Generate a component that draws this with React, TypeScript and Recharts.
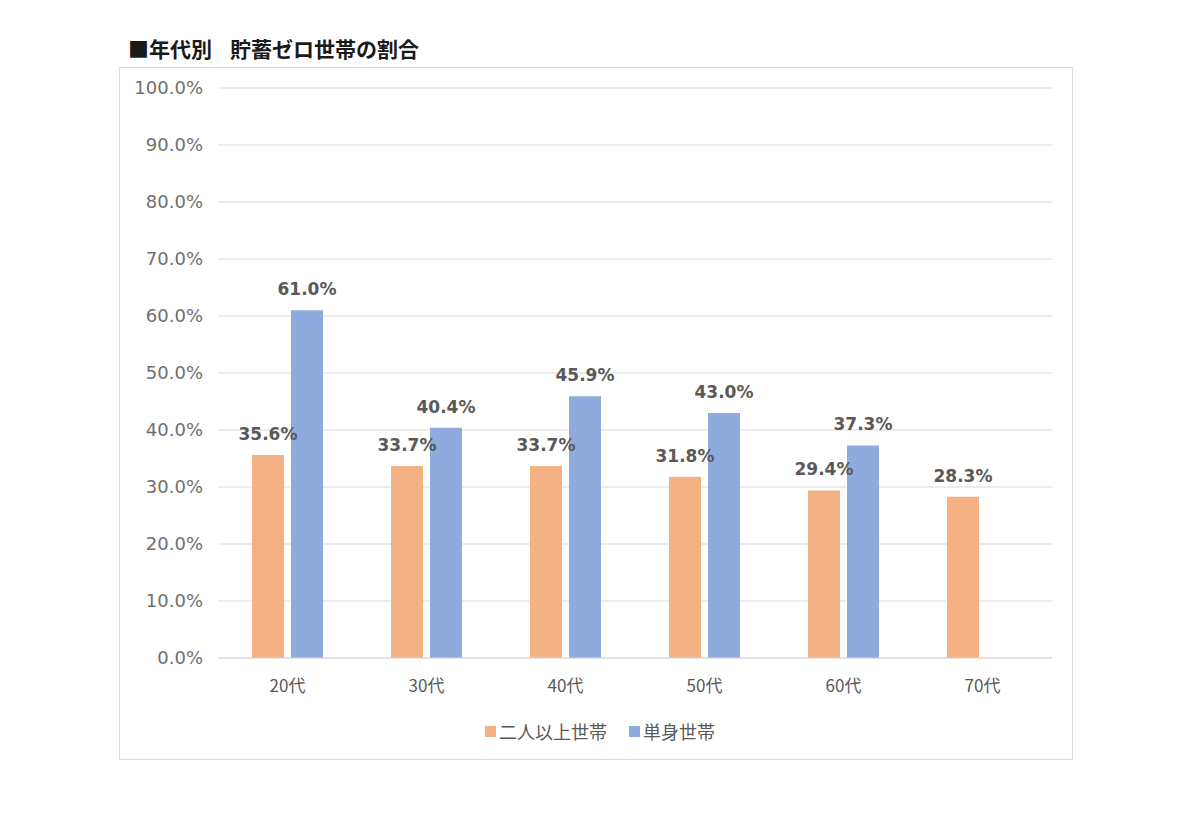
import { Bar, BarChart, CartesianGrid, LabelList, Legend, XAxis, YAxis } from "recharts";

const ageGroups = ["20代", "30代", "40代", "50代", "60代", "70代"];
const multiPersonRates = [0.356, 0.337, 0.337, 0.318, 0.294, 0.283];
const singleRates: (number | null)[] = [0.61, 0.404, 0.459, 0.43, 0.373, null];
const yTicks = [0, 0.1, 0.2, 0.3, 0.4, 0.5, 0.6, 0.7, 0.8, 0.9, 1.0];

const data = ageGroups.map((age, i) => ({
  age,
  multi: multiPersonRates[i],
  single: singleRates[i],
}));

const NUM_FONT = '"DejaVu Sans", "Noto Sans CJK JP", sans-serif';
const JP_FONT = '"Noto Sans CJK JP", sans-serif';
const pct = (v: unknown) => (v == null ? "" : `${(Number(v) * 100).toFixed(1)}%`);

const legendItems = [
  { label: "二人以上世帯", color: "#f4b183" },
  { label: "単身世帯", color: "#8faadc" },
];

function ChartLegend() {
  return (
    <div
      style={{
        display: "flex",
        justifyContent: "center",
        alignItems: "center",
        height: 24,
        gap: 22,
        marginLeft: 28,
        fontFamily: JP_FONT,
        fontSize: 18,
        color: "#595959",
      }}
    >
      {legendItems.map((item) => (
        <div key={item.label} style={{ display: "flex", alignItems: "center", gap: 3 }}>
          <span style={{ width: 11, height: 11, background: item.color, display: "inline-block" }} />
          <span>{item.label}</span>
        </div>
      ))}
    </div>
  );
}

export default function App() {
  return (
    <div
      style={{
        position: "absolute",
        left: 0,
        top: 0,
        width: 1200,
        height: 819,
        background: "#fff",
      }}
    >
      <div
        style={{
          position: "absolute",
          left: 128,
          top: 33,
          fontSize: 21,
          fontWeight: 700,
          color: "#1a1a1a",
          fontFamily: JP_FONT,
          whiteSpace: "pre",
        }}
      >
        ■年代別<span style={{ marginLeft: 18 }}>貯蓄ゼロ世帯の割合</span>
      </div>
      <div
        style={{
          position: "absolute",
          left: 119,
          top: 67,
          width: 952,
          height: 691,
          border: "1px solid #d9d9d9",
        }}
      >
        <BarChart
          width={952}
          height={691}
          data={data}
          margin={{ top: 20, right: 20, bottom: 47, left: 0 }}
          barGap={7}
          barSize={32}
        >
          <CartesianGrid stroke="#d9d9d9" vertical={false} />
          <XAxis
            dataKey="age"
            axisLine={{ stroke: "#d9d9d9" }}
            tickLine={false}
            tickSize={0}
            tickMargin={22}
            tick={{ fill: "#595959", fontSize: 17, fontFamily: JP_FONT }}
          />
          <YAxis
            width={98}
            domain={[0, 1]}
            ticks={yTicks}
            axisLine={false}
            tickLine={false}
            tickSize={0}
            tickMargin={15}
            tickFormatter={pct}
            tick={{ fill: "#6f6f6f", fontSize: 18, fontFamily: NUM_FONT }}
          />
          <Legend verticalAlign="bottom" wrapperStyle={{ bottom: 16 }} content={() => <ChartLegend />} />
          <Bar dataKey="multi" name="二人以上世帯" fill="#f4b183" isAnimationActive={false}>
            <LabelList
              dataKey="multi"
              position="top"
              offset={15}
              formatter={pct}
              style={{ fill: "#595959", fontSize: 17, fontWeight: 700, fontFamily: NUM_FONT }}
            />
          </Bar>
          <Bar dataKey="single" name="単身世帯" fill="#8faadc" isAnimationActive={false}>
            <LabelList
              dataKey="single"
              position="top"
              offset={15}
              formatter={pct}
              style={{ fill: "#595959", fontSize: 17, fontWeight: 700, fontFamily: NUM_FONT }}
            />
          </Bar>
        </BarChart>
      </div>
    </div>
  );
}
